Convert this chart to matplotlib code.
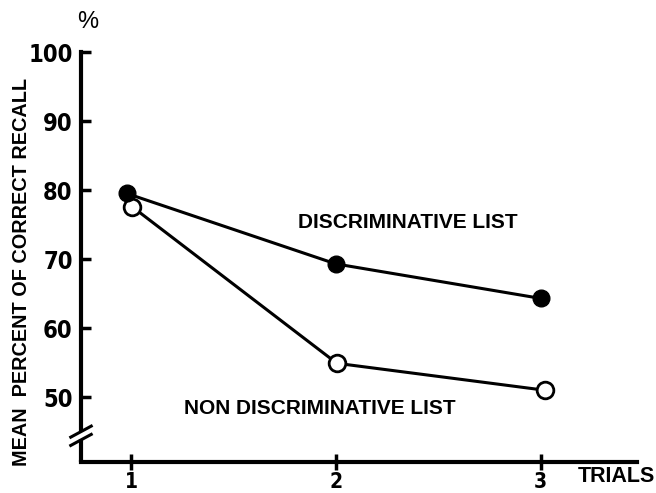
import numpy as np
import matplotlib.pyplot as plt

# datos
trials = [1, 2, 3]
discriminative = [79.5, 69.3, 64.3]
non_discriminative = [77.6, 54.9, 51.0]
y_ticks = [50, 60, 70, 80, 90, 100]

plt.rcParams['font.family'] = ['Liberation Sans', 'DejaVu Sans']

fig = plt.figure(figsize=(6.56, 4.93), dpi=100)
ax = fig.add_axes([81 / 656, 31 / 493, 556 / 656, 410 / 493])

ax.set_xlim(0.756, 3.47)
ax.set_ylim(40.6, 100)

# desplazamiento pequeno de los marcadores en el ensayo 1
x_disc = np.array(trials, dtype=float) + np.array([-0.02, 0.0, 0.0])
x_non = np.array(trials, dtype=float) + np.array([0.005, 0.005, 0.02])

ax.plot(x_non, non_discriminative, '-', color='black', lw=2.2,
        marker='o', ms=12, mfc='white', mec='black', mew=2, zorder=3)
ax.plot(x_disc, discriminative, '-', color='black', lw=2.2,
        marker='o', ms=12, mfc='black', mec='black', zorder=4)

# ejes
for s in ['top', 'right']:
    ax.spines[s].set_visible(False)
ax.spines['left'].set_linewidth(3)
ax.spines['bottom'].set_linewidth(3)
ax.spines['left'].set_bounds(45.4, 100)

# parte baja del eje y y marcas de corte
ax.plot([0.756, 0.756], [40.6, 44.0], color='black', lw=3, clip_on=False,
        solid_capstyle='butt')
for yc in [45.0, 43.8]:
    ax.plot([0.756 - 0.05, 0.756 + 0.05], [yc - 0.8, yc + 0.8],
            color='black', lw=2.2, clip_on=False)

tick_font = dict(family='DejaVu Sans', stretch='condensed', weight='bold')
ax.set_yticks(y_ticks)
ax.set_yticklabels([str(v) for v in y_ticks], fontsize=17, **tick_font)
ax.tick_params(axis='y', direction='in', length=7, width=2.5, pad=6)
ax.set_xticks(trials)
ax.set_xticklabels([str(t) for t in trials], fontsize=15, **tick_font)
ax.tick_params(axis='x', direction='inout', length=12, width=2.5, pad=1)

fig.text(88 / 656, 1 - 22 / 493, '%', fontsize=17, ha='center', va='center')
fig.text(22 / 656, 1 - 272 / 493, 'MEAN  PERCENT OF CORRECT RECALL', rotation=90,
         fontsize=14.3, fontweight='bold', ha='center', va='center')
fig.text(616 / 656, 1 - 476 / 493, 'TRIALS', fontsize=15.5, fontweight='bold',
         ha='center', va='center')
fig.text(408 / 656, 1 - 222 / 493, 'DISCRIMINATIVE LIST', fontsize=15,
         fontweight='bold', ha='center', va='center')
fig.text(320 / 656, 1 - 408 / 493, 'NON DISCRIMINATIVE LIST', fontsize=15,
         fontweight='bold', ha='center', va='center')

fig.savefig('out.png', dpi=100)
